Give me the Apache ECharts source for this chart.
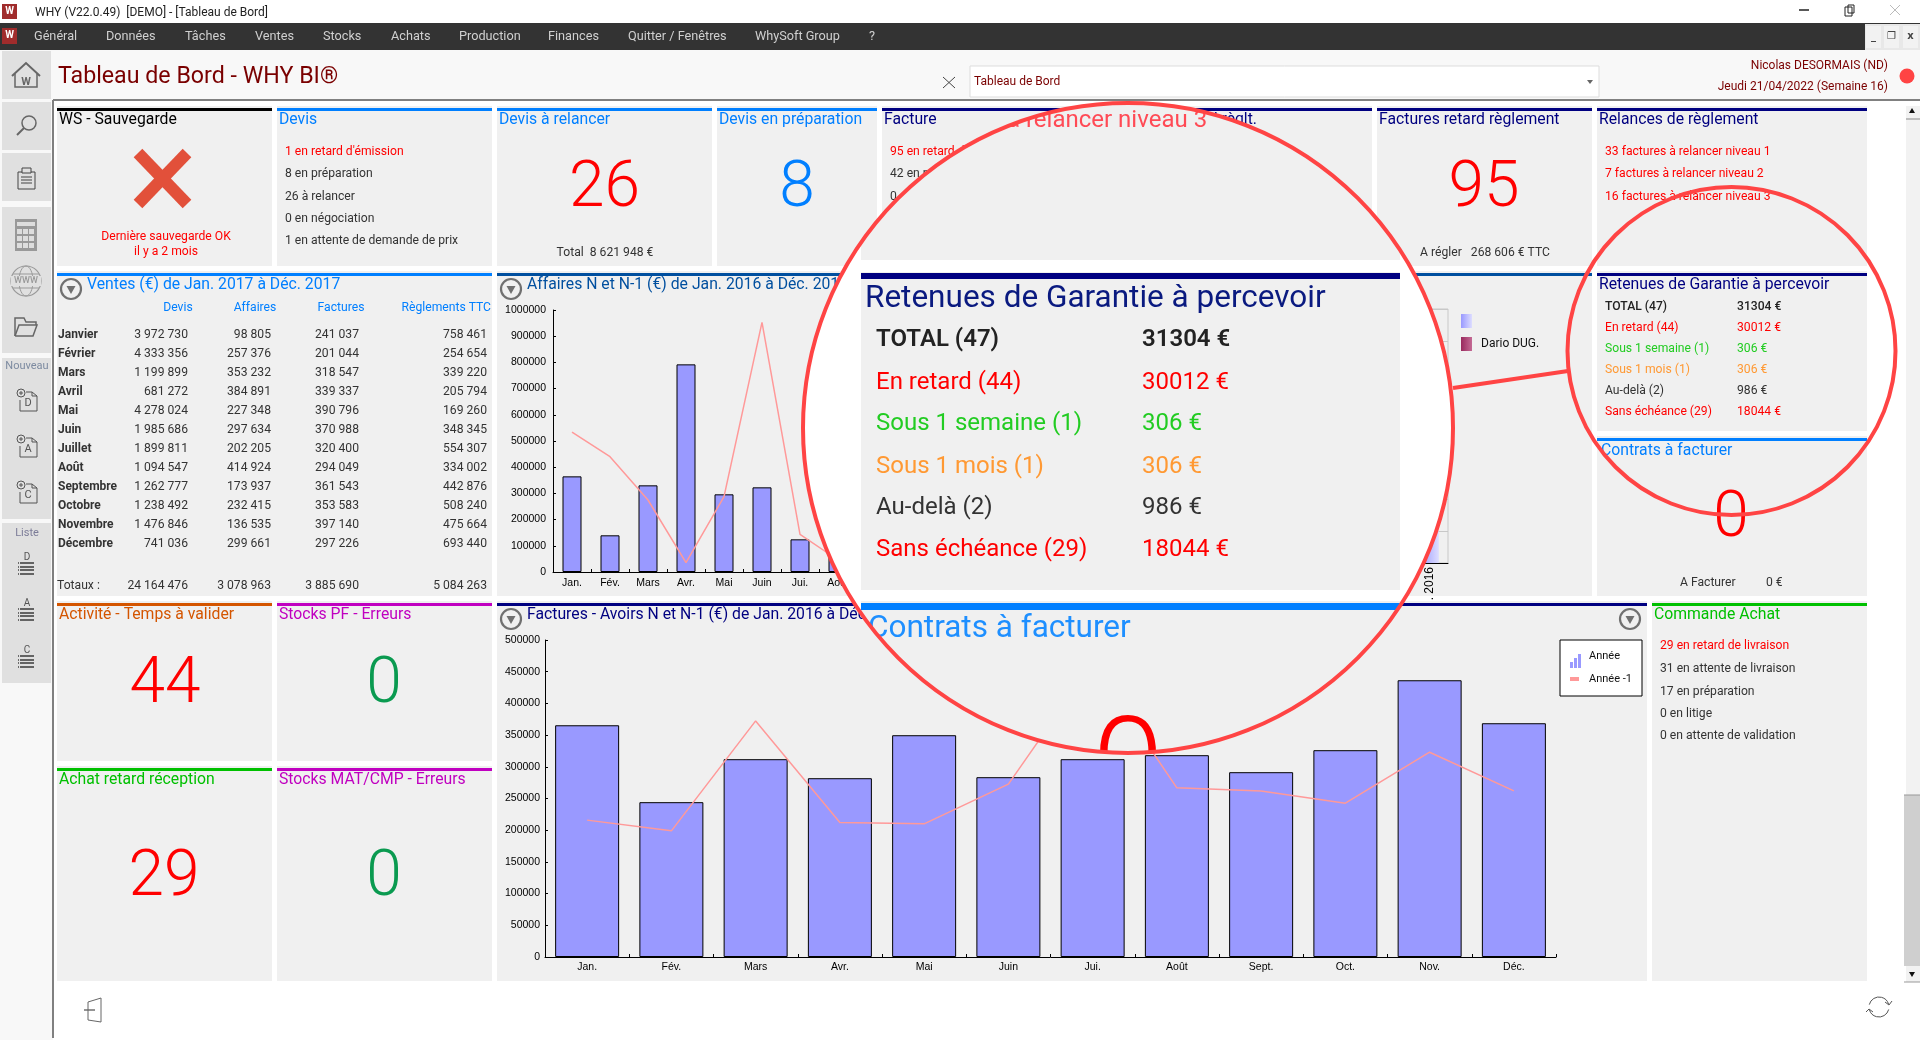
<!DOCTYPE html>
<html><head><meta charset="utf-8">
<style>html,body{margin:0;padding:0;background:#fff;overflow:hidden}#c{width:1920px;height:1040px}</style>
<script src="https://cdn.jsdelivr.net/npm/echarts@6/dist/echarts.min.js"></script>
</head><body><div id="c"></div>
<script>
/* ---------- data ---------- */
const menuItems = [['Général',34],['Données',106],['Tâches',185],['Ventes',255],['Stocks',323],['Achats',391],['Production',459],['Finances',548],['Quitter / Fenêtres',628],['WhySoft Group',755],['?',869]];
const monthsShort = ['Jan.','Fév.','Mars','Avr.','Mai','Juin','Jui.','Août','Sept.','Oct.','Nov.','Déc.'];
const monthsLong = ['Janvier','Février','Mars','Avril','Mai','Juin','Juillet','Août','Septembre','Octobre','Novembre','Décembre'];
const ventesDevis = [3972730,4333356,1199899,681272,4278024,1985686,1899811,1094547,1262777,1238492,1476846,741036];
const ventesAffaires = [98805,257376,353232,384891,227348,297634,202205,414924,173937,232415,136535,299661];
const ventesFactures = [241037,201044,318547,339337,390796,370988,320400,294049,361543,353583,397140,297226];
const ventesReglements = [758461,254654,339220,205794,169260,348345,554307,334002,442876,508240,475664,693440];
const ventesTotaux = [24164476,3078963,3885690,5084263];
const affairesN = [365000,140000,330700,792500,296400,323100,124700,116000,null,null,null,null];
const affairesN1 = [534000,440000,274800,35600,287500,952700,143700,45800,null,null,null,null];
const facturesN = [365500,244200,312000,282000,349800,283600,312000,318300,291500,326200,436500,368700];
const facturesN1 = [215900,199000,372400,212200,210000,272600,463000,266800,262000,242600,323000,262000];
const commerciauxMois = ['','','','','','','','','','','','. 2016'];
const commerciauxValeurs = [null,null,null,null,null,null,null,null,null,null,null,1];
const devisLines = [["1 en retard d'émission",'#ff0000'],['8 en préparation','#333'],['26 à relancer','#333'],['0 en négociation','#333'],['1 en attente de demande de prix','#333']];
const factureLines = [['95 en retard de règlement','#ff0000'],['42 en préparation','#333'],['0 en litige','#333']];
const relanceLines = [['33 factures à relancer niveau 1','#ff0000'],['7 factures à relancer niveau 2','#ff0000'],['16 factures à relancer niveau 3','#ff0000']];
const commandeLines = [['29 en retard de livraison','#ff0000'],['31 en attente de livraison','#333'],['17 en préparation','#333'],['0 en litige','#333'],['0 en attente de validation','#333']];
const retenueLines = [['TOTAL (47)','31304 €','#222',500],['En retard (44)','30012 €','#ff0000',400],['Sous 1 semaine (1)','306 €','#22cc22',400],['Sous 1 mois (1)','306 €','#ff9933',400],['Au-delà (2)','986 €','#333',400],['Sans échéance (29)','18044 €','#ff0000',400]];

/* ---------- helpers ---------- */
const F='Roboto';
const fmt=n=>String(n).replace(/\B(?=(\d{3})+$)/g,' ');
const T=(text,x,y,o={})=>{const s=o.s||12.15;return {type:'text',z:o.z??1,silent:true,style:{x,y:y+s*0.09,text,fill:o.c||'#333',fontSize:s,fontFamily:o.f||F,fontWeight:o.w||400,align:o.a||'left',verticalAlign:'middle'}};};
const R=(x,y,w,h,fill,o={})=>({type:'rect',z:o.z??-1,silent:true,shape:{x,y,width:w,height:h},style:{fill,stroke:o.st||null,lineWidth:o.lw||0}});
const L=(pts,stroke,lw=1,z=1)=>({type:'polyline',z,silent:true,shape:{points:pts},style:{stroke,lineWidth:lw,fill:null}});
const C=(cx,cy,r,o={})=>({type:'circle',z:o.z??1,silent:true,shape:{cx,cy,r},style:{fill:o.fill||null,stroke:o.st||null,lineWidth:o.lw||0}});
const G=(a,b)=>({type:'linear',x:0,y:0,x2:1,y2:0,colorStops:[{offset:0,color:a},{offset:1,color:b}]});
const g=[];
const panel=(x,y,w,h,bar,title,tx,ty,tc)=>{g.push(R(x,y-1,w,h+1,'#f0f0f0'),R(x,y+1,w,3,bar,{z:-0.5}));if(title)g.push(T(title,tx??x+2,ty??y+13,{c:tc||bar,s:15.75}));};

/* ---------- chrome ---------- */
g.push(R(0,0,1920,1040,'#ffffff',{z:-5}),R(0,50,1920,50,'#f8f8f8',{z:-4}),R(0,50,53,990,'#f8f8f8',{z:-4}));
g.push(R(0,23,1920,27,'#333333',{z:-3}));
g.push(R(2,4,15,15,'#a02c2c'),T('W',9.5,11,{c:'#fff',s:10,w:700,a:'center',z:1}));
g.push(T('WHY (V22.0.49)  [DEMO] - [Tableau de Bord]',35,11.5,{c:'#222',s:12}));
g.push(R(2,28,15,16,'#a02c2c',{z:-2}),T('W',9.5,35,{c:'#fff',s:10,w:700,a:'center'}));
menuItems.forEach(m=>g.push(T(m[0],m[1],35.5,{c:'#d0d0d0',s:12.7})));
g.push(L([[1799,10],[1809,10]],'#222',1.5));
g.push(R(1845,7,7,9,'#fff',{z:1,st:'#222',lw:1}),R(1848,5,6,8,null,{z:1,st:'#222',lw:1}));
g.push(L([[1890,5],[1900,15]],'#bbb',1),L([[1900,5],[1890,15]],'#bbb',1));
g.push(R(1865,24,55,26,'#e8e8e8',{z:-2}));
[[1866,'_'],[1884,'❐'],[1903,'x']].forEach(b=>{g.push(R(b[0],26,15,22,'#f2f2f2',{z:-1}),T(b[1],b[0]+7.5,36,{c:'#444',s:10,a:'center',w:700,f:'DejaVu Sans'}));});
g.push(T('Tableau de Bord - WHY BI®',58,75.5,{c:'#7a0000',s:23.2}));
g.push(L([[943,77],[955,88]],'#444',1),L([[955,77],[943,88]],'#444',1));
g.push(R(970,66,629,31,'#fff',{z:-2,st:'#dddddd',lw:1}),T('Tableau de Bord',974,80.5,{c:'#7a0000',s:12}));
g.push({type:'polygon',z:1,silent:true,shape:{points:[[1587,80],[1593,80],[1590,84]]},style:{fill:'#666'}});
g.push(T('Nicolas DESORMAIS (ND)',1888,64.5,{c:'#7a0000',s:12,a:'right'}),T('Jeudi 21/04/2022 (Semaine 16)',1888,85.5,{c:'#7a0000',s:12,a:'right'}),C(1907,76,7.5,{fill:'#ff4444'}));
g.push(L([[53,100],[1920,100]],'#808080',2,-1),L([[53,100],[53,1038]],'#808080',2,-1));

/* sidebar */
[[51,48],[102,48],[153,48],[207,146],[358,161],[523,160]].forEach(b=>g.push(R(2,b[0],49,b[1],'#e0e0e0',{z:-2})));
const ic='#666';
g.push(L([[12,76],[26,63],[40,76]],ic,2),L([[15,74],[15,87],[37,87],[37,74]],ic,1.5),T('W',26,81,{c:ic,s:11,w:700,a:'center'}));
g.push(C(29,123,7,{st:ic,lw:1.5}),L([[24,128],[17,135]],ic,2));
g.push(R(18,172,17,17,null,{z:1,st:'#444',lw:1}),R(22,168,9,5,'#e0e0e0',{z:1,st:'#444',lw:1}),L([[21,177],[32,177]],'#444',1),L([[21,180],[32,180]],'#444',1),L([[21,183],[32,183]],'#444',1));
g.push(R(15,219,22,32,'#999',{z:0}),R(17,222,18,4,'#ddd',{z:1}));
[229,236,243].forEach(y=>[17,23,29].forEach(x=>g.push(R(x,y,5,5,'#ddd',{z:1}))));
g.push(C(26,281,15,{st:'#999',lw:1.2}),{type:'ellipse',z:1,silent:true,shape:{cx:26,cy:281,rx:7,ry:15},style:{fill:null,stroke:'#999',lineWidth:1}},L([[13,274],[39,274]],'#999',1),L([[13,288],[39,288]],'#999',1));
g.push(R(11,276,30,10,'#e0e0e0',{z:1}),T('WWW',26,280,{c:'#999',s:9,a:'center',w:500,z:2}));
g.push(L([[15,336],[15,318],[24,318],[26,322],[36,322],[36,325]],ic,1.5),L([[15,336],[19,325],[37,325],[33,336],[15,336]],ic,1.5));
g.push(T('Nouveau',27,365,{c:'#7c8aa0',s:11,a:'center'}),T('Liste',27,532,{c:'#7c7c98',s:11,a:'center'}));
[[403,'D'],[449,'A'],[495,'C']].forEach(d=>{const y=d[0];
 g.push(L([[26,y-11],[32,y-11],[37,y-7],[37,y+8],[20,y+8],[20,y-3]],'#555',1),L([[32,y-11],[32,y-7],[37,y-7]],'#555',1),C(21,y-10,4,{st:'#555',lw:1}),L([[19,y-10],[23,y-10]],'#555',1),L([[21,y-12],[21,y-8]],'#555',1),T(d[1],28,y-1,{c:'#555',s:11,a:'center'}));});
[[558,'D'],[604,'A'],[651,'C']].forEach(d=>{const y=d[0];
 g.push(T(d[1],27,y-1,{c:'#555',s:10,a:'center'}));
 [5,9,12,16].forEach(o=>g.push(L([[20,y+o],[34,y+o]],'#444',1.6),L([[18,y+o],[19,y+o]],'#444',1.6)));});
g.push(L([[88,1002],[101,998],[101,1022],[88,1020],[88,1002]],'#666',1),L([[84,1010],[95,1010]],'#666',1.4));
g.push({type:'arc',z:1,silent:true,shape:{cx:1879,cy:1007,r:10,startAngle:-2.9,endAngle:-0.3},style:{fill:null,stroke:'#555',lineWidth:1}},{type:'arc',z:1,silent:true,shape:{cx:1879,cy:1007,r:10,startAngle:0.25,endAngle:2.85},style:{fill:null,stroke:'#555',lineWidth:1}},L([[1885,1002],[1889,1005],[1892,1001]],'#555',1),L([[1866,1012],[1869,1009],[1873,1012]],'#555',1));
g.push(R(1906,106,14,876,'#f2f2f2',{z:-2}),R(1904,795,16,171,'#cfcfcf',{z:-1}),L([[1904,795],[1920,795]],'#999',1),L([[1906,119],[1920,119]],'#888',1),L([[1904,982],[1920,982]],'#999',1));
g.push({type:'polygon',z:1,silent:true,shape:{points:[[1909,113],[1915,113],[1912,108]]},style:{fill:'#111'}},{type:'polygon',z:1,silent:true,shape:{points:[[1909,972],[1915,972],[1912,977]]},style:{fill:'#111'}});

/* panels row 1 */
panel(57,107,215,159,'#000000','WS - Sauvegarde',59,119);
g.push(L([[138,153],[187,204]],'#e2503a',12),L([[187,153],[138,204]],'#e2503a',12));
g.push(T('Dernière sauvegarde OK',166,235.5,{c:'#ff0000',a:'center'}),T('il y a 2 mois',166,250.5,{c:'#ff0000',a:'center'}));
panel(277,107,215,159,'#007fff','Devis',279,119);
const rowY=[150.5,172.5,195.5,217.5,239.5];
devisLines.forEach((d,i)=>g.push(T(d[0],285,rowY[i],{c:d[1]})));
panel(497,107,215,159,'#007fff','Devis à relancer',499,119);
g.push(T('26',604.5,184,{c:'#ff0000',s:64,w:300,a:'center'}),T('Total  8 621 948 €',605,251.5,{a:'center'}));
panel(717,107,160,159,'#007fff','Devis en préparation',719,119);
g.push(T('8',797,184,{c:'#007fff',s:64,w:300,a:'center'}));
panel(882,107,215,159,'#000080','Facture',884,119);
factureLines.forEach((d,i)=>g.push(T(d[0],890,rowY[i],{c:d[1]})));
panel(1102,107,270,159,'#000080');
g.push(T('Factures en retard règlt.',1257,119,{c:'#000080',s:15.75,a:'right'}));
panel(1377,107,215,159,'#000080','Factures retard règlement',1379,119);
g.push(T('95',1484,184,{c:'#ff0000',s:64,w:300,a:'center'}),T('A régler   268 606 € TTC',1485,251.5,{a:'center'}));
panel(1597,107,270,159,'#000080','Relances de règlement',1599,119);
relanceLines.forEach((d,i)=>g.push(T(d[0],1605,rowY[i],{c:d[1]})));

/* row 2 */
panel(57,272,435,324,'#007fff','Ventes (€) de Jan. 2017 à Déc. 2017',87,284);
panel(497,272,1095,324,'#004f9f','Affaires N et N-1 (€) de Jan. 2016 à Déc. 2016',527,284);
const arrowIcon=(x,y)=>g.push(C(x,y,10,{st:'#707070',lw:2.2}),{type:'polygon',z:1,silent:true,shape:{points:[[x-4.5,y-3],[x+4.5,y-3],[x,y+5]]},style:{fill:'#707070'}});
arrowIcon(71,289);arrowIcon(511,289);arrowIcon(511,619);arrowIcon(1630,619);
[['Devis',178,'center'],['Affaires',255,'center'],['Factures',341,'center'],['Règlements TTC',491,'right']].forEach(h=>g.push(T(h[0],h[1],306.5,{c:'#007fff',a:h[2]})));
monthsLong.forEach((m,i)=>{const y=333.5+19*i;
 g.push(T(m,58,y,{w:700,c:'#333',s:12}),T(fmt(ventesDevis[i]),188,y,{a:'right'}),T(fmt(ventesAffaires[i]),271,y,{a:'right'}),T(fmt(ventesFactures[i]),359,y,{a:'right'}),T(fmt(ventesReglements[i]),487,y,{a:'right'}));});
g.push(T('Totaux :',57,584.5));
[188,271,359,487].forEach((x,i)=>g.push(T(fmt(ventesTotaux[i]),x,584.5,{a:'right'})));
g.push(R(1461,314,11,14,G('#9999ff','#ddddff'),{z:0}),R(1461,337,11,14,G('#992a5e','#c46a94'),{z:0}),T('Dario DUG.',1481,342.5,{c:'#111',s:12}));
panel(1597,272,270,159,'#000080','Retenues de Garantie à percevoir',1599,284);
retenueLines.forEach((r,i)=>{const y=305.5+21*i;g.push(T(r[0],1605,y,{c:r[2],w:r[3]}),T(r[1],1737,y,{c:r[2],w:r[3]}));});
panel(1597,437,270,159,'#007fff','Contrats à facturer',1601,450);
g.push(T('0',1731,514,{c:'#ff0000',s:64,w:300,a:'center'}),T('A Facturer',1680,581.5),T('0 €',1766,581.5));

/* row 3 */
panel(57,602,215,159,'#d45500','Activité - Temps à valider',59,614);
g.push(T('44',165,680,{c:'#ff0000',s:64,w:300,a:'center'}));
panel(277,602,215,159,'#c000c0','Stocks PF - Erreurs',279,614);
g.push(T('0',384,680,{c:'#0a9a50',s:64,w:300,a:'center'}));
panel(57,767,215,214,'#00c000','Achat retard réception',59,779);
g.push(T('29',164,873,{c:'#ff0000',s:64,w:300,a:'center'}));
panel(277,767,215,214,'#c000c0','Stocks MAT/CMP - Erreurs',279,779);
g.push(T('0',384,873,{c:'#0a9a50',s:64,w:300,a:'center'}));
panel(497,602,1150,379,'#000080','Factures - Avoirs N et N-1 (€) de Jan. 2016 à Déc. 2016',527,614);
panel(1652,602,215,379,'#00c000','Commande Achat',1654,614);
commandeLines.forEach((d,i)=>g.push(T(d[0],1660,[644.5,667.5,690.5,712.5,734.5][i],{c:d[1]})));
/* chart legend */
g.push(R(1560,640,82,56,'#fff',{z:0,st:'#000',lw:1}));
g.push(R(1570,662,3,6,'#9999ff',{z:1}),R(1574,658,3,10,'#9999ff',{z:1}),R(1578,654,3,14,'#9999ff',{z:1}),T('Année',1589,655.5,{c:'#111',s:11}));
g.push(R(1570,677,9,4,'#ff9999',{z:1}),T('Année -1',1589,678.5,{c:'#111',s:11}));

/* rings above everything */
g.push(C(1128,428,325,{st:'#ff4444',lw:4,z:200}),C(1731.5,351,164,{st:'#ff4444',lw:4,z:200}),L([[1453,388],[1568,371]],'#ff4444',4,200));

/* ---------- magnifier content (clipped to the circle) ---------- */
const M=[];
const mt=(text,x,y,c,s,w=400,a='left',blur=2)=>M.push({type:'text',silent:true,style:{x,y:y+s*0.09,text,fill:c,fontSize:s,fontFamily:F,fontWeight:w,align:a,verticalAlign:'middle',shadowColor:c,shadowBlur:blur}});
const mr=(x,y,w,h,fill)=>M.push({type:'rect',silent:true,shape:{x,y,width:w,height:h},style:{fill}});
mr(780,80,700,700,'#ffffff');
mr(861,90,539,170,'#f0f0f0');
mt(relanceLines[2][0],880,119,'#ff4a55',24);
mr(861,272,539,318,'#f0f0f0');
mr(861,273,539,6,'#000080');
mt('Retenues de Garantie à percevoir',865,296,'#0a1a80',31.5);
retenueLines.forEach((r,i)=>{const y=[338,381,422,465,506,548][i];mt(r[0],876,y,r[2],24,i===0?600:r[3]);mt(r[1],1142,y,r[2],24,i===0?600:r[3]);});
mr(861,601,539,180,'#f0f0f0');
mr(861,603,539,7,'#007fff');
mt('Contrats à facturer',868,626,'#1e8fff',31.5);
mt('0',1128,764.5,'#ff0000',128,300,'center',0);

const axisText={color:'#000',fontFamily:'Liberation Sans',fontSize:10.5,formatter:v=>String(v)};
const axisLine={show:true,lineStyle:{color:'#000',width:1}};
const tick={show:true,inside:true,length:3,lineStyle:{color:'#000'}};
const barStyle={color:'#9999ff',borderColor:'#000',borderWidth:1};

const chart=echarts.init(document.getElementById('c'),null,{renderer:'canvas',width:1920,height:1040});
chart.setOption({
 animation:false,backgroundColor:'#fff',
 graphic:{elements:g},
 grid:[
  {left:553,top:310,width:456,height:262,containLabel:false},
  {left:545,top:640,width:1011,height:317},
  {left:1000,top:309,width:448,height:254,show:true,borderColor:'#c8c8c8',borderWidth:1,backgroundColor:'transparent'}
 ],
 xAxis:[
  {gridIndex:0,type:'category',data:monthsShort,axisLine,axisTick:tick,axisLabel:{...axisText,margin:6,interval:0}},
  {gridIndex:1,type:'category',data:monthsShort,axisLine,axisTick:tick,axisLabel:{...axisText,margin:5,interval:0}},
  {gridIndex:2,type:'category',data:commerciauxMois,axisLine,axisTick:{show:false},axisLabel:{color:'#000',fontFamily:'Liberation Sans',fontSize:12,rotate:90,interval:0,margin:4}}
 ],
 yAxis:[
  {gridIndex:0,type:'value',min:0,max:1000000,interval:100000,axisLine,axisTick:tick,splitLine:{show:false},axisLabel:{...axisText,margin:7}},
  {gridIndex:1,type:'value',min:0,max:500000,interval:50000,axisLine,axisTick:tick,splitLine:{show:false},axisLabel:{...axisText,margin:5}},
  {gridIndex:2,type:'value',min:0,max:8,interval:1,axisLine:{show:false},axisTick:{show:false},splitLine:{show:true,lineStyle:{color:'#c8c8c8'}},axisLabel:{show:false}}
 ],
 series:[
  {type:'bar',xAxisIndex:0,yAxisIndex:0,data:affairesN,barWidth:19,itemStyle:barStyle,silent:true,z:2},
  {type:'line',xAxisIndex:0,yAxisIndex:0,data:affairesN1,symbol:'none',lineStyle:{color:'#ff9999',width:1.5},silent:true,z:3},
  {type:'bar',xAxisIndex:1,yAxisIndex:1,data:facturesN,barWidth:64,itemStyle:barStyle,silent:true,z:2},
  {type:'line',xAxisIndex:1,yAxisIndex:1,data:facturesN1,symbol:'none',lineStyle:{color:'#ff9999',width:1.5},silent:true,z:3},
  {type:'bar',xAxisIndex:2,yAxisIndex:2,data:commerciauxValeurs,barWidth:19,itemStyle:{color:G('#9999ff','#ddddff')},silent:true,z:2},
  {type:'custom',coordinateSystem:'none',z:100,silent:true,data:[0],clip:false,
   renderItem:()=>({type:'group',children:M,clipPath:{type:'circle',shape:{cx:1128,cy:428,r:325}}})}
 ]
});
</script></body></html>
